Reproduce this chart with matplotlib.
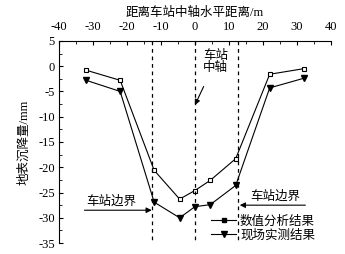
import matplotlib
matplotlib.use('Agg')
import matplotlib.pyplot as plt
from matplotlib.lines import Line2D

plt.rcParams['font.family'] = ['Liberation Serif', 'Noto Sans CJK SC']
plt.rcParams['axes.unicode_minus'] = False

# horizontal distance from station axis (m)
dist = [-32, -22, -12, -4.5, 0, 4.5, 12, 22, 32]
# settlement (mm)
numerical = [-0.8, -2.8, -20.6, -26.3, -24.6, -22.6, -18.3, -1.6, -0.5]
measured = [-2.8, -5.0, -26.9, -30.0, -27.8, -27.4, -23.6, -4.3, -2.4]
boundary_x = [-12.7, 0, 12.7]

fs = 9
fig = plt.figure(figsize=(3.45, 2.54), dpi=100)
ax = fig.add_axes([0.171, 0.043, 0.788, 0.796])

ax.plot(dist, numerical, color='black', lw=0.8, marker='s', ms=3.5,
        mfc='white', mec='black', mew=0.8)
ax.plot(dist, measured, color='black', lw=0.8, marker='v', ms=4.5,
        mfc='black', mec='black')

for bx in boundary_x:
    ax.plot([bx, bx], [5, -35], color='black', lw=0.9, ls=(0, (3, 3)))

ax.set_xlim(-40, 40)
ax.set_ylim(-35, 5)
ax.xaxis.tick_top()
ax.xaxis.set_label_position('top')
ax.set_xticks(range(-40, 41, 10))
ax.set_xticks(range(-40, 41, 5), minor=True)
ax.set_yticks(range(-35, 6, 5))
ax.set_yticks([-35 + 2.5 * i for i in range(17)], minor=True)
ax.tick_params(which='both', direction='in', labelsize=fs)
ax.tick_params(axis='x', which='major', pad=6)
ax.tick_params(axis='y', which='major', pad=3)
ax.tick_params(which='major', length=3)
ax.tick_params(which='minor', length=2)
ax.spines['right'].set_visible(False)
ax.spines['bottom'].set_visible(False)
ax.set_xlabel('距离车站中轴水平距离/m', fontsize=fs, labelpad=3)
ax.set_ylabel('地表沉降量/mm', fontsize=fs, labelpad=6)

ax.annotate('车站\n中轴', xy=(0, -7.7), xytext=(6, 0.9), fontsize=fs,
            ha='center', va='center', linespacing=1.0,
            arrowprops=dict(arrowstyle='-|>', color='black', lw=0.8,
                            mutation_scale=8, shrinkA=8, shrinkB=0))
ax.annotate('', xy=(-12.7, -28.5), xytext=(-32.5, -28.5),
            arrowprops=dict(arrowstyle='-|>', color='black', lw=0.8,
                            mutation_scale=8, shrinkA=0, shrinkB=0))
ax.text(-24.5, -26.8, '车站边界', fontsize=fs, ha='center', va='center')
ax.annotate('', xy=(13.2, -27.5), xytext=(32.5, -27.5),
            arrowprops=dict(arrowstyle='-|>', color='black', lw=0.8,
                            mutation_scale=8, shrinkA=0, shrinkB=0))
ax.text(23.5, -25.9, '车站边界', fontsize=fs, ha='center', va='center')

handles = [Line2D([], [], color='black', lw=0.8, marker='s', ms=3),
           Line2D([], [], color='black', lw=0.8, marker='v', ms=4.5)]
ax.legend(handles, ['数值分析结果', '现场实测结果'], loc='upper left',
          bbox_to_anchor=(0.56, 0.138), frameon=False, fontsize=fs,
          handlelength=2.0, handletextpad=0.3, labelspacing=0.15,
          borderpad=0, borderaxespad=0)

fig.savefig('out.png', dpi=100)
